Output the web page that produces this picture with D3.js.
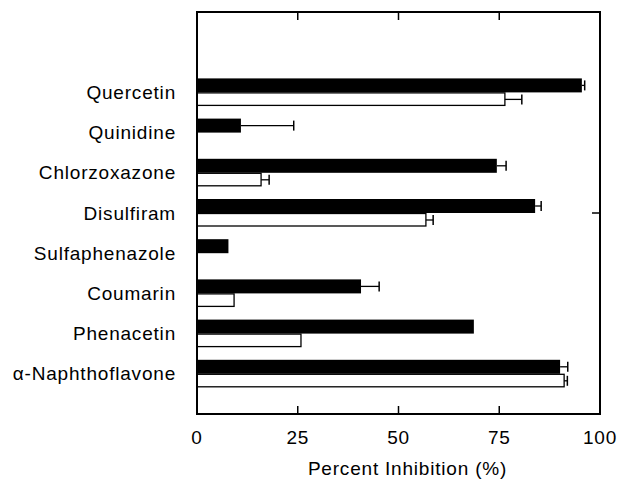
<!DOCTYPE html>
<html>
<head>
<meta charset="utf-8">
<script src="https://cdn.jsdelivr.net/npm/d3@7"></script>
<style>
  body { margin: 0; background: #fff; }
  text { font-family: "Liberation Sans", Arial, sans-serif; fill: #000; letter-spacing: 0.8px; }
</style>
</head>
<body>
<svg id="chart" width="621" height="479"></svg>
<script>
var compounds = ["Quercetin", "Quinidine", "Chlorzoxazone", "Disulfiram", "Sulfaphenazole",
                 "Coumarin", "Phenacetin", "\u03b1-Naphthoflavone"];
// black bars and their error (SD)
var blackVals = [95.5, 10.9, 74.4, 83.9, 7.8, 40.7, 68.7, 90.1];
var blackErr  = [0.7, 13.1, 2.3, 1.5, 0, 4.5, 0, 1.9];
// open bars and their error (SD)
var whiteVals = [76.4, 0, 15.9, 56.8, 0, 9.2, 25.8, 91.1];
var whiteErr  = [4.2, 0, 2.0, 1.8, 0, 0, 0, 0.8];
var xTicks = [0, 25, 50, 75, 100];

var rows = compounds.map(function (c, i) {
    return {name: c, i: i, b: blackVals[i], be: blackErr[i], w: whiteVals[i], we: whiteErr[i]};
});

var svg = d3.select("#chart"),
    margin = {top: 12, right: 21, bottom: 65, left: 197},
    width = +svg.attr("width") - margin.left - margin.right,
    height = +svg.attr("height") - margin.top - margin.bottom;

var x = d3.scaleLinear().domain([0, 100]).range([0, width]);
// two empty slots above the first compound
var y = d3.scaleLinear().domain([-2, compounds.length]).range([0, height]);
var barH = 14;

var g = svg.append("g")
    .attr("transform", "translate(" + margin.left + "," + margin.top + ")");

// black bars (above category line)
g.selectAll("rect.black").data(rows).enter().append("rect")
    .attr("class", "black")
    .attr("x", 0)
    .attr("y", function (d) { return y(d.i) - barH; })
    .attr("width", function (d) { return x(d.b); })
    .attr("height", barH)
    .attr("fill", "#000");

// open bars (below category line)
g.selectAll("rect.white").data(rows.filter(function (d) { return d.w > 0; })).enter().append("rect")
    .attr("class", "white")
    .attr("x", 0)
    .attr("y", function (d) { return y(d.i) + 0.5; })
    .attr("width", function (d) { return x(d.w); })
    .attr("height", barH - 1.5)
    .attr("fill", "#fff")
    .attr("stroke", "#000")
    .attr("stroke-width", 1.3);

function errorBars(data, val, err, offset, cls) {
    var eb = g.selectAll("g." + cls)
        .data(data.filter(function (d) { return d[err] > 0; }))
        .enter().append("g").attr("class", cls);
    eb.append("line")
        .attr("x1", function (d) { return x(d[val]); })
        .attr("x2", function (d) { return x(d[val] + d[err]); })
        .attr("y1", function (d) { return y(d.i) + offset; })
        .attr("y2", function (d) { return y(d.i) + offset; })
        .attr("stroke", "#000").attr("stroke-width", 1.3);
    eb.append("line")
        .attr("x1", function (d) { return x(d[val] + d[err]); })
        .attr("x2", function (d) { return x(d[val] + d[err]); })
        .attr("y1", function (d) { return y(d.i) + offset - 5; })
        .attr("y2", function (d) { return y(d.i) + offset + 5; })
        .attr("stroke", "#000").attr("stroke-width", 1.5);
}
errorBars(rows, "b", "be", -barH / 2, "errB");
errorBars(rows, "w", "we", barH / 2, "errW");

// frame
g.append("rect")
    .attr("width", width)
    .attr("height", height)
    .attr("fill", "none")
    .attr("stroke", "#000")
    .attr("stroke-width", 2);

// inward ticks top and bottom
var inner = xTicks.slice(1, -1);
g.selectAll("line.tb").data(inner).enter().append("line")
    .attr("x1", function (d) { return x(d); })
    .attr("x2", function (d) { return x(d); })
    .attr("y1", height).attr("y2", height - 8)
    .attr("stroke", "#000").attr("stroke-width", 1.5);
g.selectAll("line.tt").data(inner).enter().append("line")
    .attr("x1", function (d) { return x(d); })
    .attr("x2", function (d) { return x(d); })
    .attr("y1", 0).attr("y2", 8)
    .attr("stroke", "#000").attr("stroke-width", 1.5);
// single right-side tick at middle
g.append("line")
    .attr("x1", width).attr("x2", width - 8)
    .attr("y1", height / 2).attr("y2", height / 2)
    .attr("stroke", "#000").attr("stroke-width", 1.5);

// x tick labels
g.selectAll("text.xt").data(xTicks).enter().append("text")
    .attr("class", "xt")
    .attr("x", function (d) { return x(d); })
    .attr("y", height + 30)
    .attr("text-anchor", "middle")
    .attr("font-size", 19)
    .text(function (d) { return d; });

// category labels
g.selectAll("text.cat").data(rows).enter().append("text")
    .attr("class", "cat")
    .attr("x", -21)
    .attr("y", function (d) { return y(d.i); })
    .attr("dy", "0.35em")
    .attr("text-anchor", "end")
    .attr("font-size", 19)
    .text(function (d) { return d.name; });

// axis title
g.append("text")
    .attr("x", x(50) + 9)
    .attr("y", height + 61)
    .attr("text-anchor", "middle")
    .attr("font-size", 19)
    .text("Percent Inhibition (%)");
</script>
</body>
</html>
